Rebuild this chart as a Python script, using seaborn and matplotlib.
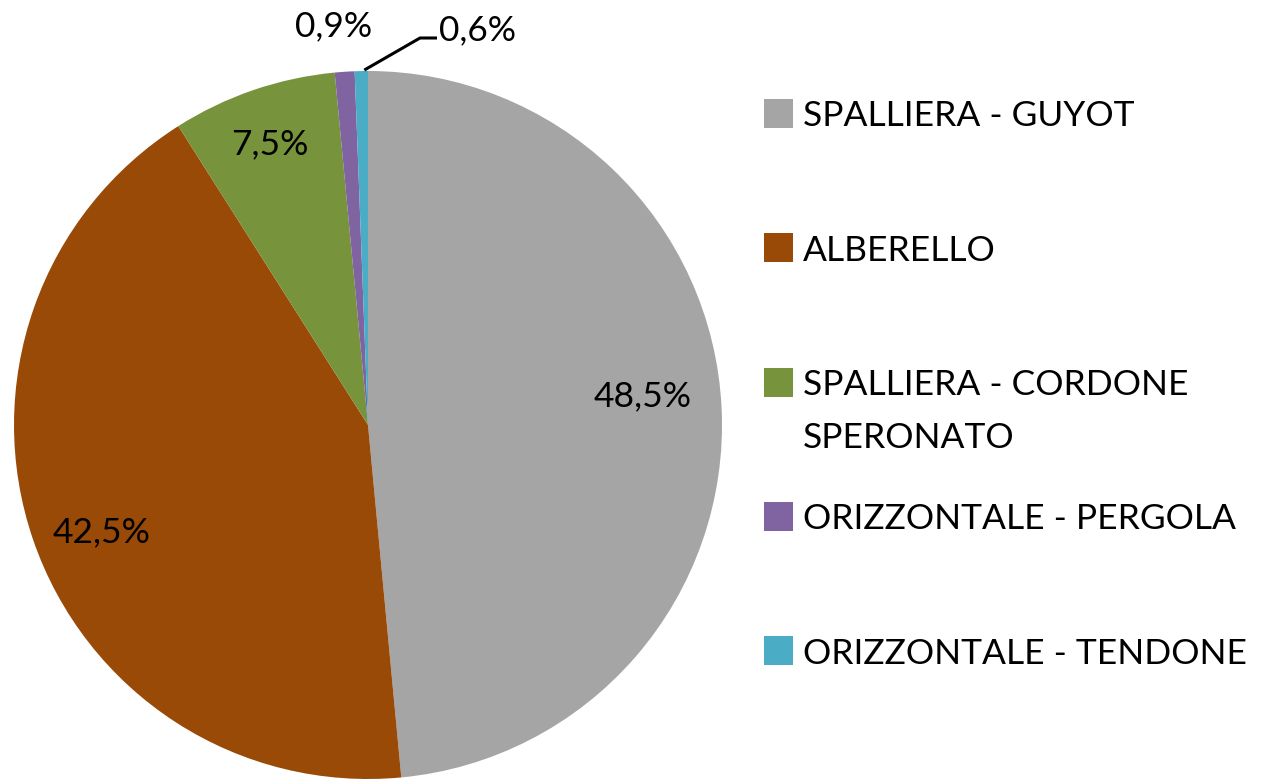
import numpy as np
import matplotlib
matplotlib.use("Agg")
import matplotlib.pyplot as plt
import seaborn as sns
from matplotlib.patches import Rectangle

categories = ["SPALLIERA - GUYOT", "ALBERELLO", "SPALLIERA - CORDONE\nSPERONATO",
              "ORIZZONTALE - PERGOLA", "ORIZZONTALE - TENDONE"]
values = [48.5, 42.5, 7.5, 0.9, 0.6]
value_labels = ["48,5%", "42,5%", "7,5%", "0,9%", "0,6%"]
colors = ["#A5A5A5", "#9A4A07", "#77933C", "#8064A2", "#4BACC6"]

sns.set_theme(style="white")
plt.rcParams['font.family'] = ['Lato', 'DejaVu Sans']

W, H = 1274, 781
fig = plt.figure(figsize=(W / 100, H / 100), dpi=100)
ax = fig.add_axes([0, 0, 1, 1])

cx, cy, R = 368, 781 - 425, 354
wedges, _ = ax.pie(values, colors=colors, startangle=90, counterclock=False,
                   center=(cx, cy), radius=R, frame=True,
                   wedgeprops=dict(linewidth=0))
ax.set_xlim(0, W)
ax.set_ylim(0, H)
ax.set_aspect('equal')
ax.axis('off')

fs = 25.5
rfac = [0.78, 0.81, 0.84, 1.13]
dang = [3.2, 3.0, 0.4, 1.2]
for i in range(4):
    w = wedges[i]
    mid = np.deg2rad((w.theta1 + w.theta2) / 2 + dang[i])
    ax.text(cx + rfac[i] * R * np.cos(mid), cy + rfac[i] * R * np.sin(mid),
            value_labels[i], ha='center', va='center', fontsize=fs, color='black')

# leader label for the smallest slice
w = wedges[4]
mid = np.deg2rad((w.theta1 + w.theta2) / 2)
p0 = (cx + R * np.cos(mid) + 3, cy + R * np.sin(mid) + 1)
pk = (420, H - 38)
p1 = (437, H - 38)
ax.plot([p0[0], pk[0], p1[0]], [p0[1], pk[1], p1[1]], color='black', lw=2.2,
        solid_capstyle='butt')
ax.text(p1[0] + 2, H - 30, value_labels[4], ha='left', va='center', fontsize=fs,
        color='black')

# legend
top0 = 99
step = 134.3
line_gap = 53
for i, (lab, col) in enumerate(zip(categories, colors)):
    y_top = H - (top0 + i * step)
    ax.add_patch(Rectangle((764, y_top - 29), 29, 29, facecolor=col, edgecolor='none'))
    for j, line in enumerate(lab.split('\n')):
        ax.text(803, y_top - 14.5 - j * line_gap, line, ha='left', va='center_baseline',
                fontsize=fs, color='black')

fig.savefig("out.png", dpi=100)
